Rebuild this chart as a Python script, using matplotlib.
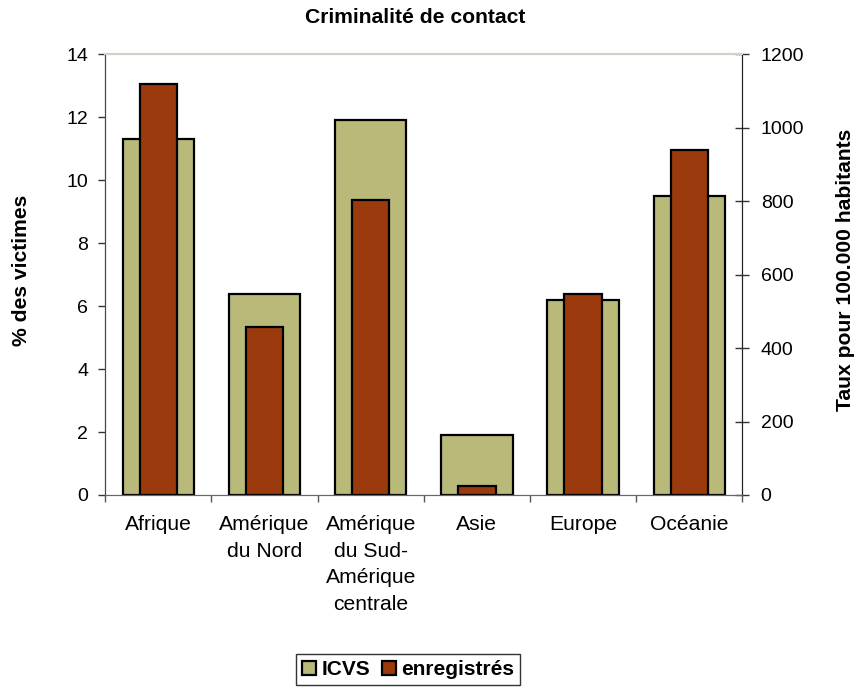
import matplotlib
matplotlib.use("Agg")
import matplotlib.pyplot as plt
from matplotlib.patches import Patch
import numpy as np

plt.rcParams['font.family'] = ['Liberation Sans', 'DejaVu Sans']

categories = ["Afrique", "Amérique\ndu Nord", "Amérique\ndu Sud-\nAmérique\ncentrale",
              "Asie", "Europe", "Océanie"]
icvs = [11.3, 6.4, 11.9, 1.9, 6.2, 9.5]            # % des victimes (left axis)
enregistres = [1120, 458, 803, 25, 547, 940]        # taux pour 100.000 habitants (right axis)

left_ticks = [0, 2, 4, 6, 8, 10, 12, 14]
right_ticks = [0, 200, 400, 600, 800, 1000, 1200]

olive = "#B9B97A"
rust = "#9B3A0D"

fig = plt.figure(figsize=(8.58, 6.89), dpi=100)
ax = fig.add_axes([0.1227, 0.2816, 0.7425, 0.6396])
ax2 = ax.twinx()

x = np.arange(len(categories))
ax.bar(x, icvs, width=0.673, color=olive, edgecolor="black", linewidth=1.6, zorder=2)
ax2.bar(x, enregistres, width=0.352, color=rust, edgecolor="black", linewidth=1.6, zorder=2)

ax.set_xlim(-0.5, len(categories) - 0.5)
ax.set_ylim(0, 14)
ax2.set_ylim(0, 1200)

ax.set_yticks(left_ticks)
ax.set_yticklabels([str(t) for t in left_ticks], fontsize=14)
ax2.set_yticks(right_ticks)
ax2.set_yticklabels([str(t) for t in right_ticks], fontsize=14)

ax.set_xticks(x)
ax.set_xticklabels(categories, fontsize=15.2, linespacing=1.5)
ax.set_xticks(np.arange(-0.5, len(categories)), minor=True)
ax.tick_params(axis="x", which="major", length=0, pad=14.5)
ax.tick_params(axis="x", which="minor", length=5, width=1, color="#555555", direction="out")
ax.tick_params(axis="y", length=5, width=1, color="#333333", direction="out", pad=7.2)
ax2.tick_params(axis="y", length=9.4, width=1, color="#333333", direction="inout", pad=8.5)

for a in (ax, ax2):
    a.spines["top"].set_color("#D4D0C8")
    a.spines["top"].set_linewidth(1.5)
    a.spines["left"].set_color("#444444")
    a.spines["right"].set_color("#222222")
    a.spines["bottom"].set_color("#666666")
    a.set_facecolor("none")

fig.text(0.4844, 0.975, "Criminalité de contact", ha="center", va="center",
         fontsize=15.2, fontweight="bold")
fig.text(0.025, 0.608, "% des victimes", ha="center", va="center", rotation=90,
         fontsize=15.2, fontweight="bold")
fig.text(0.986, 0.608, "Taux pour 100.000 habitants", ha="center", va="center", rotation=90,
         fontsize=15.2, fontweight="bold")

handles = [Patch(facecolor=olive, edgecolor="black", linewidth=1.6, label="ICVS"),
           Patch(facecolor=rust, edgecolor="black", linewidth=1.6, label="enregistrés")]
leg = fig.legend(handles=handles, loc="upper left", bbox_to_anchor=(0.345, 0.0508),
                 ncol=2, frameon=True, fancybox=False, handlelength=0.67, handleheight=0.67,
                 handletextpad=0.24, columnspacing=0.58, borderpad=0.3, borderaxespad=0,
                 prop={"weight": "bold", "size": 15})
leg.get_frame().set_edgecolor("black")
leg.get_frame().set_linewidth(1.0)

fig.savefig("out.png", dpi=100)
